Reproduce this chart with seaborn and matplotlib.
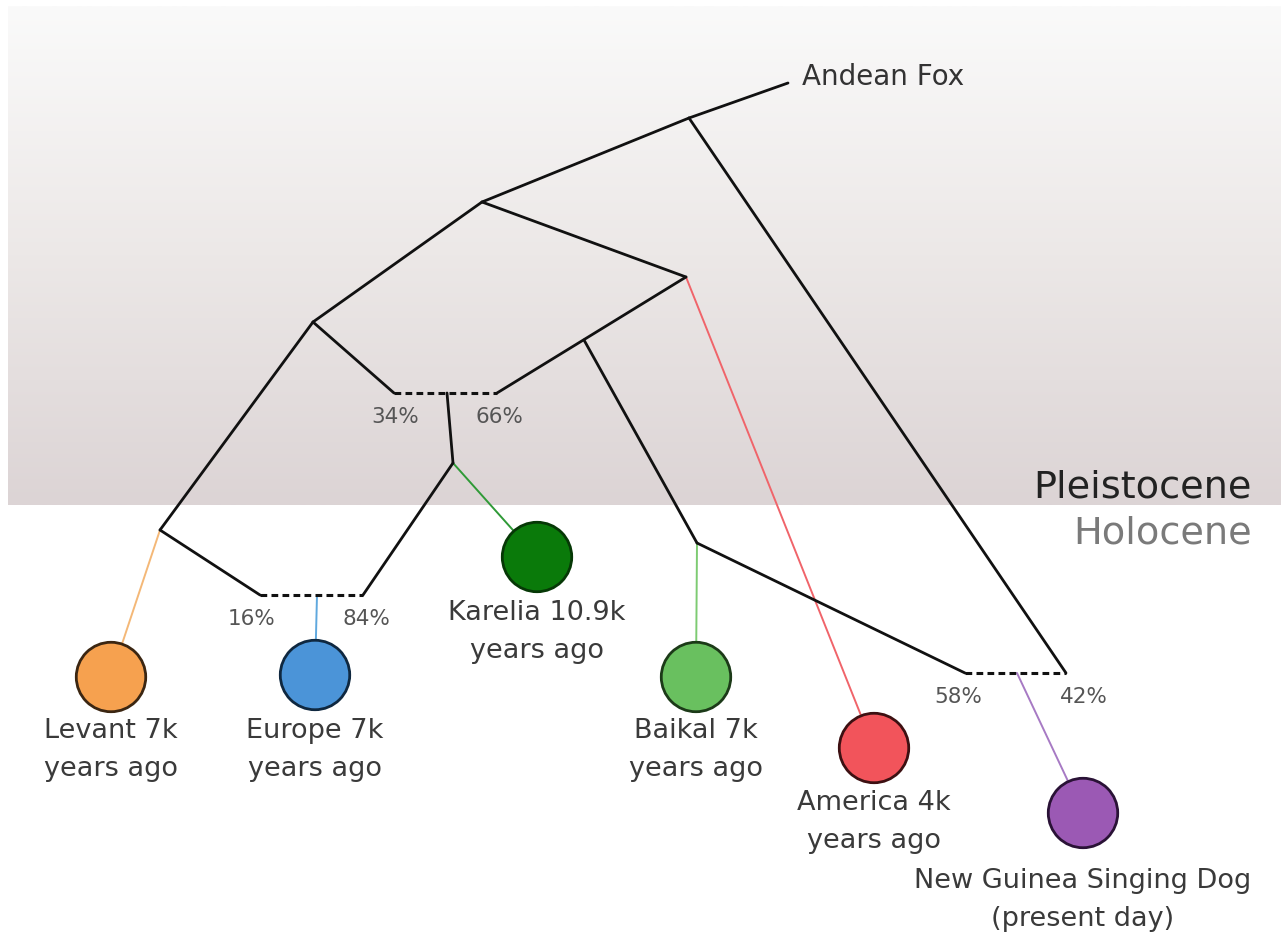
import numpy as np
import pandas as pd
import matplotlib
matplotlib.use("Agg")
import matplotlib.pyplot as plt
import seaborn as sns
from matplotlib.colors import LinearSegmentedColormap

sns.set_theme(style="white")
plt.rcParams['font.family'] = ['DejaVu Sans']

# tree nodes (drawing coordinates, y grows downward)
node_names = ['fox', 'root', 'A', 'C', 'B', 'D', 'mixL', 'mixR', 'G', 'F',
              'mix2L', 'mix2R', 'E', 'mix3L', 'mix3R', 'mix1', 'mix2', 'mix3',
              'Levant', 'Europe', 'Karelia', 'Baikal', 'America', 'NGSD']
node_x = [788, 689, 482, 686, 313, 584, 394, 497, 453, 160,
          260, 363, 697, 965, 1066, 447, 317, 1017,
          111, 315, 537, 696, 874, 1083]
node_y = [83, 118, 202, 277, 322, 340, 393, 393, 463, 530,
          595, 595, 543, 673, 673, 393, 595, 673,
          677, 675, 557, 677, 748, 813]

black_edges = [('root', 'fox'), ('root', 'A'), ('root', 'mix3R'), ('A', 'B'),
               ('A', 'C'), ('C', 'mixR'), ('B', 'mixL'), ('B', 'F'),
               ('mix1', 'G'), ('G', 'mix2R'), ('F', 'mix2L'), ('D', 'E'),
               ('E', 'mix3L')]
dashed_edges = [('mixL', 'mixR'), ('mix2L', 'mix2R'), ('mix3L', 'mix3R')]
colour_edges = [('F', 'Levant', '#f4b877'), ('mix2', 'Europe', '#5fa8de'),
                ('G', 'Karelia', '#2f9a37'), ('E', 'Baikal', '#7dcb72'),
                ('C', 'America', '#f0646a'), ('mix3', 'NGSD', '#a77ac4')]

samples = ['Levant', 'Europe', 'Karelia', 'Baikal', 'America', 'NGSD']
sample_colors = ['#f6a14f', '#4b94d8', '#0a7a0a', '#69c05f', '#f2545b', '#9b59b4']
sample_edges = ['#3b2612', '#0f2840', '#063806', '#1c3a18', '#3d1012', '#2a1236']
sample_line1 = ['Levant 7k', 'Europe 7k', 'Karelia 10.9k', 'Baikal 7k',
                'America 4k', 'New Guinea Singing Dog']
sample_line2 = ['years ago', 'years ago', 'years ago', 'years ago',
                'years ago', '(present day)']
label_gap = [61, 63, 63, 61, 62, 75]

mix_labels = ['34%', '66%', '16%', '84%', '58%', '42%']
mix_x = [395, 499, 252, 366, 958, 1084]
mix_y = [423, 423, 625, 625, 703, 703]

nodes = pd.DataFrame({'x': node_x, 'y': node_y}, index=node_names)

fig = plt.figure(figsize=(12.81, 9.35), dpi=100)
ax = fig.add_axes([0, 0, 1, 1])
ax.set_xlim(0, 1281)
ax.set_ylim(935, 0)
ax.axis('off')

# Pleistocene band
cmap = LinearSegmentedColormap.from_list('band', ['#fafafa', '#ece8e7', '#dcd4d5'])
grad = np.linspace(0, 1, 256).reshape(-1, 1)
ax.imshow(grad, cmap=cmap, extent=[8, 1281, 505, 6], aspect='auto', zorder=0)

def seg(a, b):
    return [nodes.loc[a, 'x'], nodes.loc[b, 'x']], [nodes.loc[a, 'y'], nodes.loc[b, 'y']]

for a, b, c in colour_edges:
    xs, ys = seg(a, b)
    ax.plot(xs, ys, color=c, lw=1.4, zorder=2, solid_capstyle='round')
for a, b in black_edges:
    xs, ys = seg(a, b)
    ax.plot(xs, ys, color='#111111', lw=2.0, zorder=3, solid_capstyle='round')
for a, b in dashed_edges:
    xs, ys = seg(a, b)
    ax.plot(xs, ys, color='#111111', lw=2.2, zorder=3, dashes=(2.2, 1.4))

circ = nodes.loc[samples].reset_index().rename(columns={'index': 'name'})
sns.scatterplot(data=circ, x='x', y='y', hue='name', palette=sample_colors,
                s=2500, linewidth=2, legend=False, ax=ax, zorder=4)
ax.collections[-1].set_edgecolors(sample_edges)

for i, name in enumerate(samples):
    cx, cy = nodes.loc[name, 'x'], nodes.loc[name, 'y']
    ax.text(cx, cy + label_gap[i], sample_line1[i], ha='center', va='baseline',
            fontsize=19.5, color='#3a3a3a', zorder=5)
    ax.text(cx, cy + label_gap[i] + 38, sample_line2[i], ha='center', va='baseline',
            fontsize=19.5, color='#3a3a3a', zorder=5)

for t, x, y in zip(mix_labels, mix_x, mix_y):
    ax.text(x, y, t, ha='center', va='baseline', fontsize=15.5, color='#555555', zorder=5)

ax.text(802, 85, 'Andean Fox', ha='left', va='baseline', fontsize=20,
        color='#333333', zorder=5)
ax.text(1252, 497, 'Pleistocene', ha='right', va='baseline', fontsize=27.5,
        color='#222222', zorder=5)
ax.text(1252, 543, 'Holocene', ha='right', va='baseline', fontsize=27.5,
        color='#7a7a7a', zorder=5)

fig.savefig('out.png', dpi=100)
